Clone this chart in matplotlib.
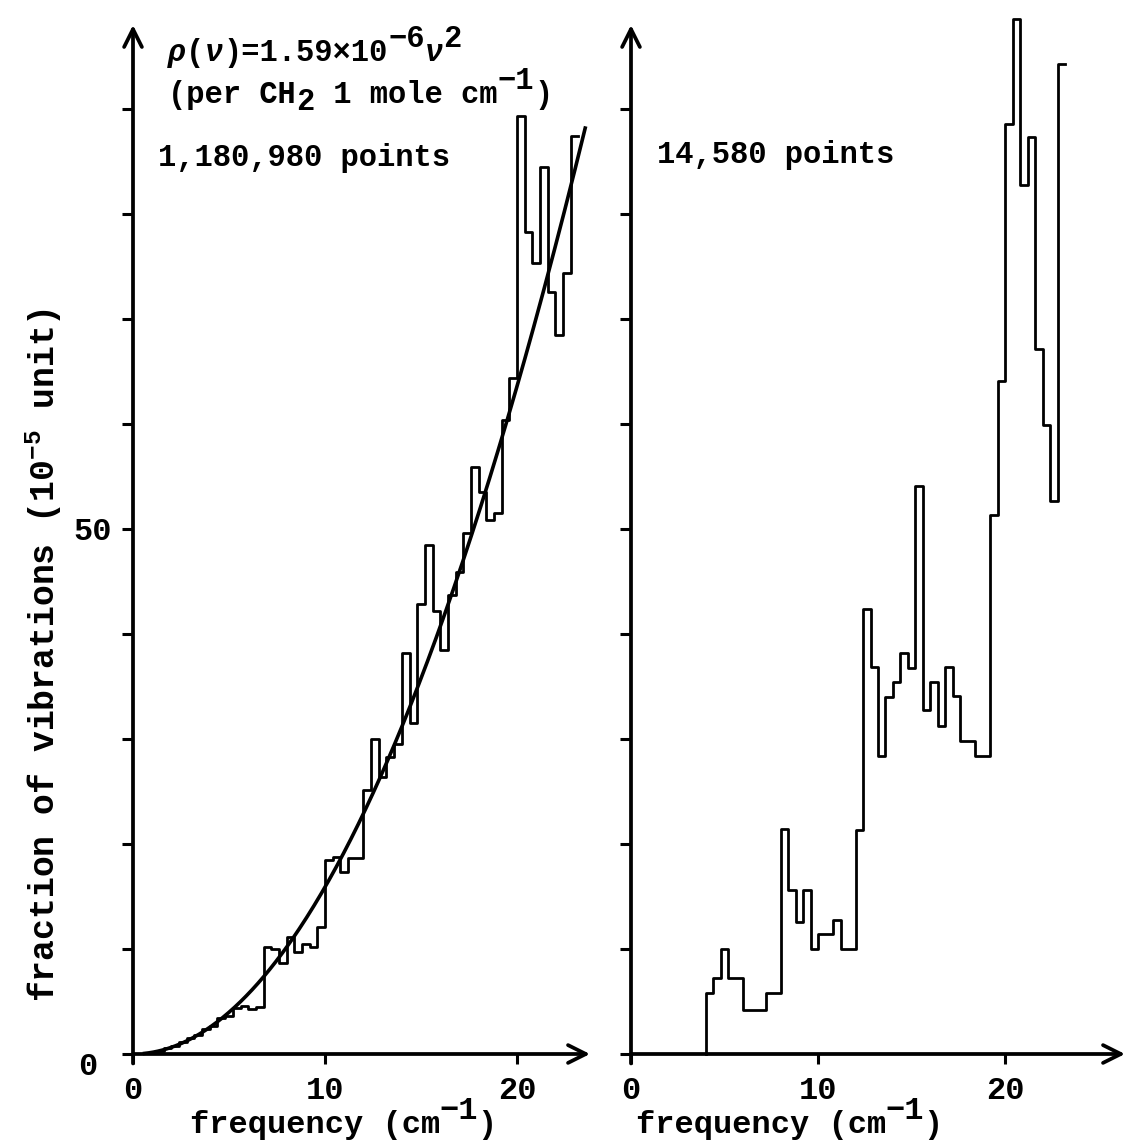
import numpy as np
import matplotlib
matplotlib.use("Agg")
import matplotlib.pyplot as plt

plt.rcParams['font.family'] = ['Liberation Mono', 'DejaVu Sans Mono', 'DejaVu Sans']
plt.rcParams['font.weight'] = 'bold'
plt.rcParams['mathtext.fontset'] = 'custom'
plt.rcParams['mathtext.rm'] = 'Liberation Mono:bold'
plt.rcParams['mathtext.it'] = 'Liberation Mono:italic:bold'
plt.rcParams['mathtext.bf'] = 'Liberation Mono:bold'

# ---------------- data ----------------
# fitted density of states  rho(nu) = 1.59e-6 * nu^2  (plotted in 1e-5 units)
rho_coef = 1.59e-6
unit_scale = 1e-5

# left panel: 1,180,980 points histogram (bin edges in cm^-1, heights in 1e-5 units)
left_edges = [1.2, 1.6, 2.0, 2.4, 2.8, 3.2, 3.6, 4.0, 4.4, 4.8, 5.2, 5.6, 6.0, 6.4,
              6.8, 7.2, 7.6, 8.0, 8.4, 8.8, 9.2, 9.6, 10.0, 10.4, 10.8, 11.2, 11.6,
              12.0, 12.4, 12.8, 13.2, 13.6, 14.0, 14.4, 14.8, 15.2, 15.6, 16.0, 16.4,
              16.8, 17.2, 17.6, 18.0, 18.4, 18.8, 19.2, 19.6, 20.0, 20.4, 20.8, 21.2,
              21.6, 22.0, 22.4, 22.8, 23.2]
left_vals = [0.3, 0.6, 0.8, 1.1, 1.5, 1.8, 2.4, 2.7, 3.4, 3.6, 4.4, 4.6, 4.3, 4.5,
             10.2, 10.0, 8.7, 11.1, 9.7, 10.5, 10.2, 12.1, 18.5, 18.8, 17.3, 18.7, 18.7,
             25.1, 30.0, 26.4, 28.3, 29.5, 38.2, 31.5, 42.9, 48.5, 42.2, 38.5, 43.7,
             45.9, 49.6, 55.9, 53.5, 50.9, 51.5, 60.4, 64.4, 89.3, 78.3, 75.3, 84.5,
             72.6, 68.5, 74.4, 87.4]

# right panel: 14,580 points histogram
right_edges = [4.0, 4.4, 4.8, 5.2, 5.6, 6.0, 6.4, 6.8, 7.2, 7.6, 8.0, 8.4, 8.8, 9.2,
               9.6, 10.0, 10.4, 10.8, 11.2, 11.6, 12.0, 12.4, 12.8, 13.2, 13.6, 14.0,
               14.4, 14.8, 15.2, 15.6, 16.0, 16.4, 16.8, 17.2, 17.6, 18.0, 18.4, 18.8,
               19.2, 19.6, 20.0, 20.4, 20.8, 21.2, 21.6, 22.0, 22.4, 22.8, 23.2]
right_vals = [5.8, 7.2, 10.0, 7.2, 7.2, 4.2, 4.2, 4.2, 5.8, 5.8, 21.4, 15.6, 12.6,
              15.6, 10.0, 11.4, 11.4, 12.8, 10.0, 10.0, 21.3, 42.4, 36.9, 28.4, 34.0,
              35.4, 38.2, 36.8, 54.1, 32.8, 35.4, 31.2, 36.9, 34.1, 29.8, 29.8, 28.4,
              28.4, 51.3, 64.1, 88.6, 98.6, 82.8, 87.3, 67.1, 59.9, 52.7, 94.3]

xticks = [0, 10, 20]
xtick_labels = ['0', '10', '20']
yticks = [0, 10, 20, 30, 40, 50, 60, 70, 80, 90]
left_ytick_labels = ['', '', '', '', '', '50', '', '', '', '']

# ---------------- figure ----------------
W, H = 1129, 1146
DPI = 100
fig = plt.figure(figsize=(W / DPI, H / DPI), dpi=DPI)

def px_axes(x0, x1, y_top, y_bot):
    return [x0 / W, 1 - y_bot / H, (x1 - x0) / W, (y_bot - y_top) / H]

YMAX = 98.0
axL = fig.add_axes(px_axes(133, 590, 25, 1054))
axR = fig.add_axes(px_axes(631, 1125, 25, 1054))
axL.set_xlim(0, 23.8)
axR.set_xlim(0, 26.4)

LW_AX = 2.7
for ax in (axL, axR):
    ax.set_ylim(0, YMAX)
    for s in ax.spines.values():
        s.set_visible(False)
    ax.patch.set_alpha(0)
    xmax = ax.get_xlim()[1]
    ax.annotate('', xy=(xmax, 0), xytext=(0, 0), xycoords='data',
                arrowprops=dict(arrowstyle='->', lw=LW_AX, color='black',
                                mutation_scale=32, shrinkA=0, shrinkB=0),
                annotation_clip=False)
    ax.annotate('', xy=(0, YMAX), xytext=(0, -0.9), xycoords='data',
                arrowprops=dict(arrowstyle='->', lw=LW_AX, color='black',
                                mutation_scale=32, shrinkA=0, shrinkB=0),
                annotation_clip=False)
    ax.set_xticks(xticks)
    ax.set_xticklabels(xtick_labels, fontsize=23)
    ax.set_yticks(yticks)
    ax.tick_params(axis='x', direction='out', length=7, width=2.2, pad=9)
    ax.tick_params(axis='y', direction='out', length=8, width=2.2, pad=7)

axL.set_yticklabels(left_ytick_labels, fontsize=23)
axR.set_yticklabels([''] * len(yticks))
axL.text(-2.35, -1.2, '0', fontsize=23, ha='center', va='center')

def step_xy(edges, vals, from_zero):
    xs = list(edges)
    ys = list(vals) + [vals[-1]]
    if from_zero:
        xs = [edges[0]] + xs
        ys = [0.0] + ys
    return xs, ys

# left histogram + fitted curve
xs, ys = step_xy(left_edges, left_vals, False)
axL.plot(xs, ys, drawstyle='steps-post', color='black', lw=2.0, clip_on=False)
nu = np.linspace(0.6, 23.55, 300)
axL.plot(nu, rho_coef * nu ** 2 / unit_scale, color='black', lw=2.6, clip_on=False)

# right histogram
xs, ys = step_xy(right_edges, right_vals, True)
axR.plot(xs, ys, drawstyle='steps-post', color='black', lw=2.0, clip_on=False)

# typewriter-style text: full-size raised / lowered characters
def mono_line(x_px, base_py, pieces, size):
    adv = 0.6 * size * DPI / 72.0
    x = x_px
    for text, dy_pt, style in pieces:
        y = base_py - dy_pt * DPI / 72.0
        fig.text(x / W, 1 - y / H, text, fontsize=size, ha='left', va='baseline',
                 fontstyle=style)
        x += len(text) * adv

SUP = 10
SUB = -5
mono_line(168, 61, [('ρ', 0, 'italic'), ('(', 0, 'normal'), ('ν', 0, 'italic'),
                    (')=1.59×10', 0, 'normal'), ('−6', SUP, 'normal'),
                    ('ν', 0, 'italic'), ('2', SUP, 'normal')], 22)
mono_line(168, 103, [('(per CH', 0, 'normal'), ('2', SUB, 'normal'),
                     (' 1 mole cm', 0, 'normal'), ('−1', SUP, 'normal'),
                     (')', 0, 'normal')], 22)
axL.text(1.3, 85.3, '1,180,980 points', fontsize=22, ha='left', va='center')
axR.text(1.4, 85.6, '14,580 points', fontsize=22, ha='left', va='center')

mono_line(190, 1133, [('frequency (cm', 0, 'normal'), ('−1', SUP, 'normal'),
                      (')', 0, 'normal')], 23)
mono_line(636, 1133, [('frequency (cm', 0, 'normal'), ('−1', SUP, 'normal'),
                      (')', 0, 'normal')], 23)
fig.text(44 / W, 1 - 655 / H, r'fraction of vibrations (10$^{-5}$ unit)', fontsize=25,
         ha='center', va='center', rotation=90)

fig.savefig('out.png', dpi=DPI)
